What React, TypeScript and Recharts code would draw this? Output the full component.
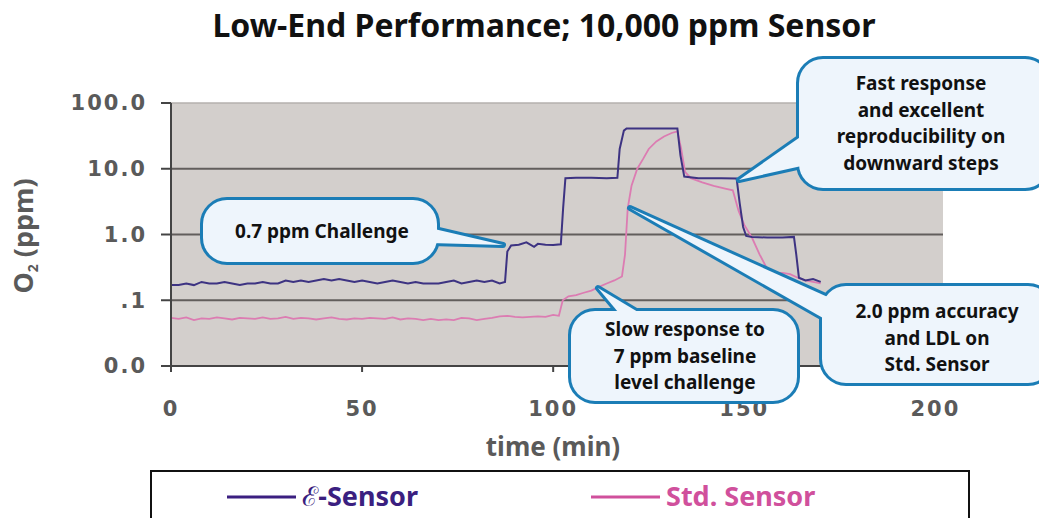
import { LineChart, Line, XAxis, YAxis, CartesianGrid, ReferenceLine } from 'recharts';

// time (min) and O2 reading (ppm) for each sensor
const eSensorTime = [
  0, 2, 4, 6, 8, 10, 12, 14, 16, 18, 20, 22, 24, 26, 28, 30, 32, 34, 36, 38, 40, 42, 44, 46, 48,
  50, 52, 54, 56, 58, 60, 62, 64, 66, 68, 70, 72, 74, 76, 78, 80, 82, 84, 86, 87.4, 88, 89, 91,
  93, 95, 96, 98, 100, 102, 102.6, 103.2, 106, 110, 114, 116.8, 117.4, 118.5, 119.2, 125, 132.5,
  133.3, 134.3, 138, 144, 148, 148.8, 149.7, 150.5, 152, 156, 160, 163, 163.6, 164.3, 166, 168, 170,
];
const eSensorPpm = [
  0.17, 0.17, 0.18, 0.17, 0.19, 0.18, 0.18, 0.19, 0.18, 0.17, 0.18, 0.18, 0.19, 0.18, 0.18, 0.2,
  0.19, 0.2, 0.19, 0.2, 0.21, 0.2, 0.21, 0.2, 0.19, 0.2, 0.19, 0.18, 0.19, 0.2, 0.19, 0.18, 0.19,
  0.18, 0.18, 0.18, 0.19, 0.2, 0.18, 0.19, 0.2, 0.19, 0.2, 0.18, 0.19, 0.55, 0.68, 0.7, 0.76, 0.65,
  0.72, 0.7, 0.69, 0.71, 2.5, 7.2, 7.3, 7.3, 7.2, 7.3, 20, 38, 41, 41, 41, 16, 7.6, 7.2, 7.2, 7.1,
  3, 1.3, 0.95, 0.92, 0.9, 0.9, 0.92, 0.5, 0.22, 0.2, 0.21, 0.19,
];

const stdSensorTime = [
  0, 2, 4, 6, 8, 10, 12, 14, 16, 18, 20, 22, 24, 26, 28, 30, 32, 34, 36, 38, 40, 42, 44, 46, 48,
  50, 52, 54, 56, 58, 60, 62, 64, 66, 68, 70, 72, 74, 76, 78, 80, 82, 84, 86, 88, 90, 92, 94, 96,
  98, 100, 101.5, 102.5, 104, 106, 108, 110, 112, 114, 116, 118, 118.8, 119.5, 120.5, 122, 123.5,
  125, 127, 129, 131, 132.5, 133.5, 134.5, 136, 139, 142, 145, 147, 148.5, 150, 152, 154, 156,
  158, 160, 162, 164, 166, 168, 170,
];
const stdSensorPpm = [
  0.054, 0.052, 0.055, 0.05, 0.053, 0.052, 0.055, 0.053, 0.051, 0.054, 0.053, 0.052, 0.055, 0.052,
  0.053, 0.056, 0.052, 0.054, 0.053, 0.051, 0.053, 0.055, 0.052, 0.051, 0.053, 0.052, 0.054, 0.053,
  0.052, 0.055, 0.051, 0.053, 0.052, 0.05, 0.052, 0.05, 0.051, 0.05, 0.054, 0.053, 0.05, 0.052,
  0.054, 0.057, 0.058, 0.056, 0.055, 0.056, 0.057, 0.056, 0.06, 0.058, 0.1, 0.115, 0.12, 0.13,
  0.14, 0.16, 0.18, 0.2, 0.23, 0.5, 2.5, 5.5, 10, 14, 20, 26, 31, 35, 37, 20, 9, 7.2, 6.2, 5.5, 5,
  4.7, 2.3, 1.4, 0.9, 0.5, 0.3, 0.26, 0.26, 0.25, 0.22, 0.2, 0.19, 0.18,
];

const xTicks = [0, 50, 100, 150, 200];
const yTicks = [0.01, 0.1, 1, 10, 100];
const yTickLabels = ['0.0', '.1', '1.0', '10.0', '100.0'];

const seriesNames = ['ℰ-Sensor', 'Std. Sensor'];
const seriesColors = ['#3d3382', '#dc7cb2'];
const legendColors = ['#3b1f80', '#d0509c'];

const eData = eSensorTime.map((t, i) => ({ t, v: eSensorPpm[i] }));
const stdData = stdSensorTime.map((t, i) => ({ t, v: stdSensorPpm[i] }));

const calloutFill = '#eef5fc';
const calloutStroke = '#1b7db6';

type Pt = [number, number];

function Callout({ x, y, w, h, tail, lines, firstBaseline, lineGap, cx }: {
  x: number; y: number; w: number; h: number; tail: Pt[]; lines: string[];
  firstBaseline: number; lineGap: number; cx: number;
}) {
  const pts = tail.map((p) => p.join(',')).join(' ');
  return (
    <g>
      {/* stroke layer at double width, then fill layer on top -> merged outline */}
      <polygon points={pts} fill={calloutStroke} stroke={calloutStroke} strokeWidth={6} strokeLinejoin="round" />
      <rect x={x} y={y} width={w} height={h} rx={24} fill={calloutStroke} stroke={calloutStroke} strokeWidth={6} />
      <polygon points={pts} fill={calloutFill} />
      <rect x={x} y={y} width={w} height={h} rx={24} fill={calloutFill} />
      {lines.map((l, i) => (
        <text
          key={i}
          x={cx}
          y={firstBaseline + i * lineGap}
          textAnchor="middle"
          fontFamily="'Noto Sans', sans-serif"
          fontWeight={700}
          fontSize={19}
          fill="#111"
        >
          {l}
        </text>
      ))}
    </g>
  );
}

export default function App() {
  return (
    <div style={{ position: 'absolute', left: 0, top: 0, width: 1039, height: 518, background: '#fff', overflow: 'hidden' }}>
      <div
        style={{
          position: 'absolute', left: 0, top: 3, width: 1088, textAlign: 'center',
          fontFamily: "'Noto Sans', sans-serif", fontWeight: 700, fontSize: 32, color: '#111',
        }}
      >
        Low-End Performance; 10,000 ppm Sensor
      </div>

      <LineChart width={1039} height={518} margin={{ top: 103, right: 96, bottom: 122, left: 0 }}>
        <CartesianGrid fill="#d3cfcc" horizontal={false} vertical={false} />
        <XAxis
          dataKey="t"
          type="number"
          domain={[0, 202]}
          ticks={xTicks}
          allowDataOverflow
          height={30}
          tickSize={6}
          tickMargin={29}
          stroke="#444"
          strokeWidth={2}
          tick={{ fill: '#5a5a5a', fontFamily: "'DejaVu Sans', sans-serif", fontWeight: 700, fontSize: 21, letterSpacing: 2 }}
        />
        <YAxis
          dataKey="v"
          type="number"
          scale="log"
          domain={[0.01, 100]}
          ticks={yTicks}
          allowDataOverflow
          width={171}
          tickSize={10}
          tickMargin={14}
          stroke="#444"
          strokeWidth={2}
          tickFormatter={(v: number) => yTickLabels[yTicks.indexOf(v)] ?? String(v)}
          tick={{ fill: '#5a5a5a', fontFamily: "'DejaVu Sans', sans-serif", fontWeight: 700, fontSize: 21, letterSpacing: 2 }}
        />
        <ReferenceLine y={100} stroke="#b4b0ae" strokeWidth={1.5} />
        {yTicks.slice(1, 4).map((v) => (
          <ReferenceLine key={v} y={v} stroke="#625e5c" strokeWidth={2} />
        ))}
        <Line data={stdData} dataKey="v" type="linear" dot={false} stroke={seriesColors[1]} strokeWidth={1.8} isAnimationActive={false} />
        <Line data={eData} dataKey="v" type="linear" dot={false} stroke={seriesColors[0]} strokeWidth={2} isAnimationActive={false} />
      </LineChart>

      <svg width={1039} height={518} style={{ position: 'absolute', left: 0, top: 0, pointerEvents: 'none' }}>
        <text
          transform="translate(33,236) rotate(-90)"
          textAnchor="middle"
          fontFamily="'Noto Sans', sans-serif"
          fontWeight={700}
          fontSize={27}
          fill="#5a5a5a"
        >
          O<tspan fontSize={14} dy={5}>2</tspan><tspan dy={-5}>{'  (ppm)'}</tspan>
        </text>
        <text x={553} y={456} textAnchor="middle" fontFamily="'Noto Sans', sans-serif" fontWeight={700} fontSize={26} fill="#5a5a5a">
          time (min)
        </text>

        <Callout
          x={203} y={200} w={234} h={62}
          tail={[[430, 228], [503, 245], [430, 243]]}
          lines={['0.7 ppm Challenge']}
          firstBaseline={238} lineGap={0} cx={322}
        />
        <Callout
          x={799} y={59} w={250} h={129}
          tail={[[806, 133], [739, 180], [806, 165]]}
          lines={['Fast response', 'and excellent', 'reproducibility on', 'downward steps']}
          firstBaseline={90} lineGap={26.5} cx={921}
        />
        <Callout
          x={571} y={311} w={226} h={90}
          tail={[[623, 318], [598, 288], [648, 318]]}
          lines={['Slow response to', '7 ppm baseline', 'level challenge']}
          firstBaseline={336} lineGap={26.5} cx={685}
        />
        <Callout
          x={822} y={286} w={230} h={97}
          tail={[[830, 298], [630, 208], [830, 322]]}
          lines={['2.0 ppm accuracy', 'and LDL on', 'Std. Sensor']}
          firstBaseline={318} lineGap={26.5} cx={937}
        />
      </svg>

      <div
        style={{
          position: 'absolute', left: 150, top: 470, width: 820, height: 70,
          border: '2px solid #111', boxSizing: 'border-box', background: '#fff',
        }}
      />
      <svg width={1039} height={518} style={{ position: 'absolute', left: 0, top: 0, pointerEvents: 'none' }}>
        {seriesNames.map((name, i) => {
          const x0 = i === 0 ? 227 : 591;
          return (
            <g key={name}>
              <line x1={x0} x2={x0 + 69} y1={497} y2={497} stroke={legendColors[i]} strokeWidth={3} />
              <text
                x={x0 + 75}
                y={506}
                fontFamily="'Noto Sans', sans-serif"
                fontWeight={700}
                fontSize={27}
                fill={legendColors[i]}
              >
                {name}
              </text>
            </g>
          );
        })}
      </svg>
    </div>
  );
}
